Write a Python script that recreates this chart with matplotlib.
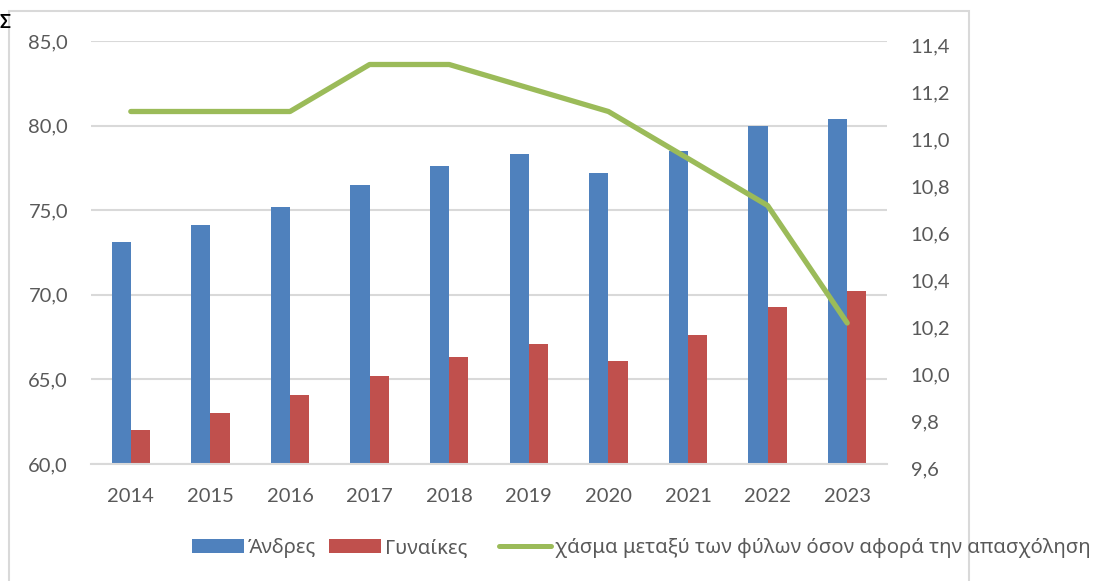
import matplotlib
matplotlib.use("Agg")
import matplotlib.pyplot as plt
import numpy as np
from matplotlib.patches import Rectangle, Patch
from matplotlib.lines import Line2D
from matplotlib.ticker import FuncFormatter, FixedLocator
from matplotlib.transforms import ScaledTranslation

years = ["2014", "2015", "2016", "2017", "2018", "2019", "2020", "2021", "2022", "2023"]
men = [73.1, 74.1, 75.2, 76.5, 77.6, 78.3, 77.2, 78.5, 80.0, 80.4]
women = [62.0, 63.0, 64.1, 65.2, 66.3, 67.1, 66.1, 67.6, 69.3, 70.2]
gap = [11.1, 11.1, 11.1, 11.3, 11.3, 11.2, 11.1, 10.9, 10.7, 10.2]
left_ticks = [60, 65, 70, 75, 80, 85]
right_ticks = [9.6, 9.8, 10.0, 10.2, 10.4, 10.6, 10.8, 11.0, 11.2, 11.4]
labels = ["Άνδρες", "Γυναίκες", "χάσμα μεταξύ των φύλων όσον αφορά την απασχόληση"]

BLUE = "#4F81BD"
RED = "#C0504D"
GREEN = "#9BBB59"
GRID = "#D9D9D9"
TXT = "#595959"
FONT = ["Lato", "DejaVu Sans"]
LEGFONT = ["Noto Sans", "DejaVu Sans"]
FS = 14.5
LFS = 14.6

plt.rcParams["font.family"] = FONT

fig = plt.figure(figsize=(11.02, 5.81), dpi=100)
ax = fig.add_axes([91/1102, 1-464/581, (887-91)/1102, (464-41)/581])

x = np.arange(len(years))
w = 0.24
ax.bar(x - w/2, men, width=w, color=BLUE, zorder=2)
ax.bar(x + w/2, women, width=w, color=RED, zorder=2)
ax.set_xlim(-0.5, len(years) - 0.5)
ax.set_ylim(60, 85)
ax.yaxis.set_major_locator(FixedLocator(left_ticks))
ax.yaxis.set_major_formatter(FuncFormatter(lambda v, p: f"{v:.1f}".replace(".", ",")))
ax.set_xticks(x)
ax.set_xticklabels(years)
ax.grid(axis="y", color=GRID, linewidth=1.5, zorder=0)
ax.set_axisbelow(True)
for s in ["top", "right", "left"]:
    ax.spines[s].set_visible(False)
ax.spines["bottom"].set_color(GRID)
ax.spines["bottom"].set_linewidth(1.5)
ax.tick_params(axis="both", length=0, labelsize=FS, labelcolor=TXT)
ax.tick_params(axis="y", pad=16.5)
ax.tick_params(axis="x", pad=17.5)

ax2 = ax.twinx()
ax2.plot(x, gap, color=GREEN, linewidth=3.8, solid_capstyle="round", zorder=3)
ax2.set_ylim(9.6, 11.4)
ax2.yaxis.set_major_locator(FixedLocator(right_ticks))
ax2.yaxis.set_major_formatter(FuncFormatter(lambda v, p: f"{v:.1f}".replace(".", ",")))
for s in ["top", "right", "left", "bottom"]:
    ax2.spines[s].set_visible(False)
ax2.tick_params(axis="y", length=0, labelsize=FS, labelcolor=TXT, pad=17)
shift = ScaledTranslation(0, -4/100, fig.dpi_scale_trans)
for t in ax2.get_yticklabels():
    t.set_transform(t.get_transform() + shift)

# chart border
fig.patches.append(Rectangle((9/1102, -0.05), (969-9)/1102, 1-11/581+0.05,
                             transform=fig.transFigure, fill=False,
                             edgecolor=GRID, linewidth=1.5, clip_on=False))

handles = [Patch(facecolor=BLUE, edgecolor="none"),
           Patch(facecolor=RED, edgecolor="none"),
           Line2D([0], [0], color=GREEN, linewidth=3.6, solid_capstyle="round")]
starts = [192, 329, 499]
ly = 1 - 548/581
for h, lab, sx in zip(handles, labels, starts):
    leg = fig.legend([h], [lab], loc="center left",
                     bbox_to_anchor=(sx/1102, ly), frameon=False,
                     prop={"family": LEGFONT, "size": LFS},
                     handlelength=2.57, handleheight=0.64,
                     handletextpad=0.19, borderaxespad=0, borderpad=0)
    for t in leg.get_texts():
        t.set_color(TXT)

fig.text(0.0, 1-22/581, "Σ", fontsize=13, fontweight="bold", color="black",
         ha="left", va="center")

fig.savefig("out.png", dpi=100)
